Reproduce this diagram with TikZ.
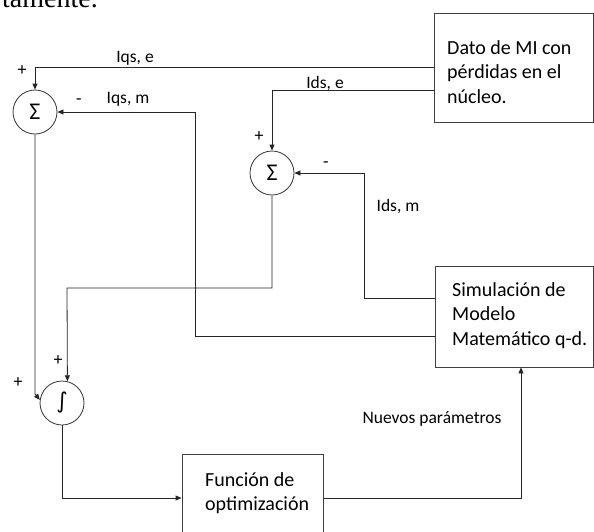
\documentclass[tikz,border=0pt]{standalone}
\usepackage{fontspec}
\setmainfont{Carlito}
\newfontfamily\serifface{Liberation Serif}
\newfontfamily\symface{DejaVu Sans}
\usetikzlibrary{arrows.meta,calc}
\begin{document}
\begin{tikzpicture}[x=1pt,y=-1pt,
  wire/.style={draw=black!85,line width=0.8pt},
  arr/.style={wire,-{Triangle[length=6pt,width=5pt]}},
  blk/.style={draw=black!75,line width=0.8pt,rectangle,inner sep=0pt},
  blktxt/.style={anchor=north west,inner sep=0pt,align=left,font=\fontsize{20}{24.5}\selectfont},
  sumnode/.style={draw=black!80,line width=0.8pt,circle,minimum size=44pt,inner sep=0pt},
  lbl/.style={inner sep=0pt,font=\fontsize{17.5}{21}\selectfont},
  sgn/.style={inner sep=0pt,font=\fontsize{18}{21}\selectfont}]
\useasboundingbox (0,0) rectangle (594,531);
\clip (0,0) rectangle (594,531);
\fill[white] (0,0) rectangle (594,531);
% clipped text from page above
\node[anchor=base east,inner sep=0pt,font=\serifface\fontsize{28}{30}\selectfont] (toptxt) at (98,7) {tamente.};
% blocks
\node[blk,minimum width=159pt,minimum height=109pt] (dato) at (513.5,67.5) {};
\node[blktxt] (datotxt) at (447,40) {Dato de MI con\\pérdidas en el\\núcleo.};
\node[blk,minimum width=158pt,minimum height=101pt] (sim) at (514,316.5) {};
\node[blktxt] (simtxt) at (452,282) {Simulación de\\Modelo\\Matemático q-d.};
\node[blk,minimum width=141pt,minimum height=88pt] (fun) at (252.5,498) {};
\node[blktxt] (funtxt) at (205,472) {Función de\\optimización};
% summing and integrating nodes
\node[sumnode,font=\fontsize{24}{24}\selectfont] (s1) at (35,112) {Σ};
\node[sumnode,font=\fontsize{24}{24}\selectfont] (s2) at (272,173) {Σ};
\node[sumnode,font=\symface\fontsize{22}{24}\selectfont] (int) at (62,403) {∫};
% helper coordinates
\coordinate (iqsm) at (195,112);
\coordinate (idsm) at (364,173);
\coordinate (c2) at (67,288);
% connectors
\draw[arr] (dato.west) -| (s1.north);
\draw[arr] ($(dato.west)+(0,22.5)$) -| (s2.north);
\draw[arr] ($(sim.west)+(0,19.5)$) -| (iqsm) -- (s1.east);
\draw[arr] ($(sim.west)+(0,-18.5)$) -| (idsm) -- (s2.east);
\draw[arr] (s2.south) |- (c2) -- (int.76);
\draw[arr] (s1.south) -- ($(s1.south |- int.172)+(0,-6)$) -- (int.172);
\draw[arr] (int.south) |- (fun.west);
\draw[arr] (fun.east) -| ($(sim.south)+(7,0)$);
% labels
\node[lbl,anchor=base] (lqse) at (135,62) {Iqs, e};
\node[lbl,anchor=base] (lqsm) at (128,103) {Iqs, m};
\node[lbl,anchor=base] (ldse) at (325,88) {Ids, e};
\node[lbl,anchor=base] (ldsm) at (398,211) {Ids, m};
\node[lbl,anchor=base] (lnp) at (432,423) {Nuevos parámetros};
\node[sgn] (p1) at (22,71) {+};
\node[sgn] (m1) at (79,102) {-};
\node[sgn] (p2) at (259,137) {+};
\node[sgn] (m2) at (326,165) {-};
\node[sgn] (p3) at (18,383) {+};
\node[sgn] (p4) at (58,361) {+};
\end{tikzpicture}
\end{document}
